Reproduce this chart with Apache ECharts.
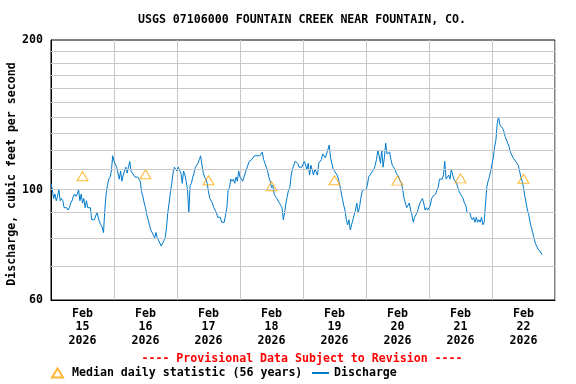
<!DOCTYPE html>
<html>
<head>
<meta charset="utf-8">
<script src="https://cdn.jsdelivr.net/npm/echarts@6/dist/echarts.min.js"></script>
<style>
html,body{margin:0;padding:0;background:#fff;}
#chart{width:576px;height:384px;}
</style>
</head>
<body>
<div id="chart"></div>
<script>
// Discharge (cfs), every 30 minutes, one array per day starting at 00:00
const feb15 = [103,100,96,98,95,97,100,95,96,95,92,92,92,91,92,94,95,97,98,97,98,100,95,98,94,96,92,95,92,92,92,87,87,87,87,90,90,86,85,84,82,91,98,102,105,106,109,117];
const feb16 = [114,114,111,111,105,109,104,107,109,111,108,111,114,109,110,107,106,106,106,106,104,99,97,94,92,89,87,85,83,82,81,80,82,80,80,78,77,77,79,80,84,90,94,99,103,108,111,110];
const feb17 = [109,111,110,108,103,109,107,104,100,90,102,103,106,108,111,111,113,115,117,112,108,106,105,103,99,96,95,94,92,91,90,88,88,88,86,86,86,89,92,100,101,105,104,105,103,106,104,109];
const feb18 = [106,105,104,106,106,110,112,114,113,115,116,117,118,117,117,117,118,119,115,113,111,109,106,104,101,102,98,97,96,96,94,93,92,87,90,94,97,100,101,107,110,111,114,113,113,111,110,111];
const feb19 = [112,114,114,110,113,107,112,111,107,110,109,107,113,113,115,118,118,116,118,117,123,116,115,110,109,108,107,105,102,99,96,93,91,87,85,87,83,83,87,87,91,94,90,92,96,99,100,100];
const feb20 = [100,102,106,106,108,109,110,112,115,120,117,113,120,111,116,124,118,117,119,115,112,112,110,108,107,106,104,103,100,96,94,92,93,94,91,89,86,88,88,90,90,94,95,96,94,91,92,91];
const feb21 = [92,93,96,97,97,98,100,101,105,105,105,107,114,105,106,107,105,110,107,105,105,103,101,99,98,97,96,94,93,90,90,90,88,87,88,86,88,86,87,86,88,85,86,86,101,104,106,109];
const feb22 = [110,116,122,126,136,140,135,135,133,131,128,128,124,122,119,118,116,115,114,113,112,109,106,104,101,97,94,91,89,86,84,82,80,78,77,76,76,75,74];

const dayLabels = ['15','16','17','18','19','20','21','22'];
// Median daily statistic (56 years), one per day, plotted at noon
const medianValues = [106.4, 107.4, 104.5, 101.6, 104.5, 104.3, 105.4, 105.2];
// horizontal grid values
const gridValues = [70, 80, 90, 100, 110, 120, 130, 140, 150, 160, 170, 180, 190];

const stepHours = 0.5;
const days = [feb15, feb16, feb17, feb18, feb19, feb20, feb21, feb22];
const discharge = [];
days.forEach((arr, d) => arr.forEach((v, i) => discharge.push([d * 24 + i * stepHours, v])));
const medians = medianValues.map((v, d) => [d * 24 + 12, v]);
const labelHours = dayLabels.map((s, d) => d * 24 + 12);

const FONT = '"DejaVu Sans Mono", "Liberation Mono", monospace';
const FS = 11.6;
const txt = {fontFamily: FONT, fontWeight: 'bold', fontSize: FS, color: '#000'};

const chart = echarts.init(document.getElementById('chart'), null, {renderer: 'canvas'});
chart.setOption({
  animation: false,
  backgroundColor: '#fff',
  title: [
    {text: 'USGS 07106000 FOUNTAIN CREEK NEAR FOUNTAIN, CO.', left: 302, top: 14, textAlign: 'center', padding: 0,
     textStyle: Object.assign({}, txt)},
    {text: '---- Provisional Data Subject to Revision ----', left: 302, top: 353, textAlign: 'center', padding: 0,
     textStyle: Object.assign({}, txt, {color: '#ff0000'})}
  ],
  legend: [
    {data: [{name: 'Median daily statistic (56 years)', icon: 'triangle'}], left: 51, top: 367, padding: 0,
     itemWidth: 11, itemHeight: 9, symbolKeepAspect: false,
     textStyle: Object.assign({}, txt, {padding: [0, 0, 0, 4]}), selectedMode: false},
    {data: ['Discharge'], left: 311, top: 367, padding: 0, itemWidth: 17, itemHeight: 10,
     textStyle: Object.assign({}, txt), selectedMode: false}
  ],
  grid: {left: 51, right: 21, top: 40, bottom: 84, show: true, borderColor: '#000', borderWidth: 1,
         backgroundColor: 'transparent', outerBoundsMode: 'none', containLabel: false},
  xAxis: {
    type: 'value', min: 0, max: 192, interval: 24,
    axisLine: {show: true, lineStyle: {color: '#000', width: 1}},
    axisTick: {show: false},
    splitLine: {show: true, lineStyle: {color: '#c8c8c8', width: 1}},
    axisLabel: Object.assign({}, txt, {
      customValues: labelHours, margin: 7, lineHeight: 13.5, align: 'center',
      formatter: function (v) { const d = Math.round((v - 12) / 24); return 'Feb\n' + dayLabels[d] + '\n2026'; }
    })
  },
  yAxis: {
    type: 'log', logBase: 10, min: 60, max: 200,
    axisLine: {show: true, lineStyle: {color: '#000', width: 1}},
    axisTick: {show: false},
    splitLine: {show: false},
    axisLabel: Object.assign({}, txt, {margin: 8}),
    name: 'Discharge, cubic feet per second', nameLocation: 'middle', nameGap: 33, nameMoveOverlap: false,
    nameTextStyle: Object.assign({}, txt, {padding: [0, 8, 0, 0]})
  },
  series: [
    {name: 'grid', type: 'line', data: [], silent: true, z: 1,
     markLine: {silent: true, symbol: 'none', label: {show: false}, animation: false,
       lineStyle: {color: '#c8c8c8', width: 1, type: 'solid'},
       data: gridValues.map(v => ({yAxis: v}))}},
    {name: 'Discharge', type: 'line', data: discharge, showSymbol: false, symbol: 'none', z: 3,
     lineStyle: {color: '#007acc', width: 1}, itemStyle: {color: 'rgba(0,0,0,0)'}},
    {name: 'Median daily statistic (56 years)', type: 'scatter', data: medians, symbol: 'triangle', symbolSize: [11, 9], z: 4,
     itemStyle: {color: 'rgba(255,255,255,0)', borderColor: '#ffa500', borderWidth: 1}}
  ]
});
</script>
</body>
</html>
